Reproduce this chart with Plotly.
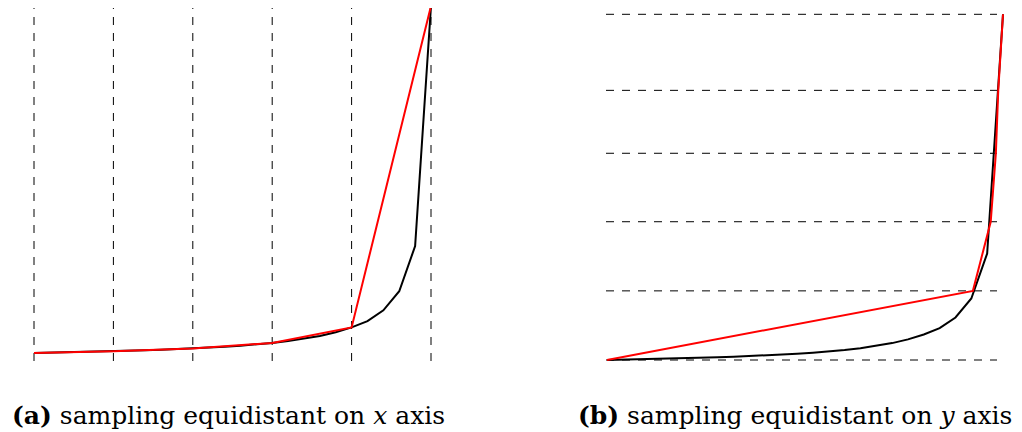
import plotly.graph_objects as go

# page has an 8px body margin: figure is placed at (8, 8)
OFF = 8
W, H = 1022 - OFF, 432 - OFF

# ---- data (normalised units) ----
curve_x = [0.00, 0.04, 0.08, 0.12, 0.16, 0.20, 0.24, 0.28, 0.32, 0.36, 0.40, 0.44, 0.48,
           0.52, 0.56, 0.60, 0.64, 0.68, 0.72, 0.76, 0.80, 0.84, 0.88, 0.92, 0.96, 1.00]
curve_y = [0.0, 0.0008, 0.0017, 0.0027, 0.0038, 0.0050, 0.0063, 0.0077, 0.0093, 0.0111,
           0.0132, 0.0155, 0.0181, 0.0212, 0.0248, 0.0291, 0.0343, 0.0408, 0.0489, 0.0596,
           0.0737, 0.0920, 0.1230, 0.1780, 0.3080, 1.0]

samples_a_x = [0.0, 0.2, 0.4, 0.6, 0.8, 1.0]
samples_a_y = [0.0, 0.0050, 0.0132, 0.0291, 0.0737, 1.0]

samples_b_y = [0.0, 0.2, 0.4, 0.598, 0.78, 1.0]
samples_b_x = [0.0, 0.924, 0.969, 0.982, 0.988, 1.0]

captions = ["<b>(a)</b> sampling equidistant on <i>x</i> axis",
            "<b>(b)</b> sampling equidistant on <i>y</i> axis"]

# ---- pixel geometry of the two panels (page pixels) ----
panels = [
    dict(x0=34, x1=431, y0=353, y1=6, dx=(12, 470), dy=(OFF, 385)),
    dict(x0=607, x1=1003, y0=360, y1=14.3, dx=(585, 1018), dy=(OFF, 385)),
]


def xr(p):
    return [(p["dx"][0] - p["x0"]) / (p["x1"] - p["x0"]), (p["dx"][1] - p["x0"]) / (p["x1"] - p["x0"])]


def yr(p):
    return [(p["y0"] - p["dy"][1]) / (p["y0"] - p["y1"]), (p["y0"] - p["dy"][0]) / (p["y0"] - p["y1"])]


def xdom(p):
    return [(p["dx"][0] - OFF) / W, (p["dx"][1] - OFF) / W]


def ydom(p):
    return [1 - (p["dy"][1] - OFF) / H, 1 - (p["dy"][0] - OFF) / H]


fig = go.Figure()
grid_style = dict(color="#000000", width=1, dash="8px,8px")

# panel a: vertical dashed lines at sample x
pa = panels[0]
vb = (pa["y0"] - 361) / (pa["y0"] - pa["y1"])
vt = (pa["y0"] - 4) / (pa["y0"] - pa["y1"])
for sx in samples_a_x:
    fig.add_trace(go.Scatter(x=[sx, sx], y=[vb, vt], mode="lines", line=grid_style,
                             xaxis="x", yaxis="y", hoverinfo="skip", showlegend=False))
fig.add_trace(go.Scatter(x=curve_x, y=curve_y, mode="lines", line=dict(color="#000000", width=2),
                         xaxis="x", yaxis="y", showlegend=False))
fig.add_trace(go.Scatter(x=samples_a_x, y=samples_a_y, mode="lines", line=dict(color="#ff0000", width=2),
                         xaxis="x", yaxis="y", showlegend=False))

# panel b: horizontal dashed lines at sample y
pb = panels[1]
hl = (606 - pb["x0"]) / (pb["x1"] - pb["x0"])
hr = (997 - pb["x0"]) / (pb["x1"] - pb["x0"])
for sy in samples_b_y:
    fig.add_trace(go.Scatter(x=[hl, hr], y=[sy, sy], mode="lines", line=grid_style,
                             xaxis="x2", yaxis="y2", hoverinfo="skip", showlegend=False))
fig.add_trace(go.Scatter(x=curve_x, y=curve_y, mode="lines", line=dict(color="#000000", width=2),
                         xaxis="x2", yaxis="y2", showlegend=False))
fig.add_trace(go.Scatter(x=samples_b_x, y=samples_b_y, mode="lines", line=dict(color="#ff0000", width=2),
                         xaxis="x2", yaxis="y2", showlegend=False))

ax_common = dict(showgrid=False, zeroline=False, showticklabels=False, showline=False, ticks="")
fig.update_layout(
    width=W, height=H, margin=dict(l=0, r=0, t=0, b=0),
    paper_bgcolor="white", plot_bgcolor="white",
    xaxis=dict(domain=xdom(pa), range=xr(pa), anchor="y", **ax_common),
    yaxis=dict(domain=ydom(pa), range=yr(pa), anchor="x", **ax_common),
    xaxis2=dict(domain=xdom(pb), range=xr(pb), anchor="y2", **ax_common),
    yaxis2=dict(domain=ydom(pb), range=yr(pb), anchor="x2", **ax_common),
)

cap_font = dict(family="DejaVu Serif", size=25, color="#000000")
for cx, text in zip([228.5, 795], captions):
    fig.add_annotation(x=(cx - OFF) / W, y=1 - (415 - OFF) / H, xref="paper", yref="paper", text=text,
                       showarrow=False, xanchor="center", yanchor="middle", font=cap_font)

fig.write_html("out.html")
